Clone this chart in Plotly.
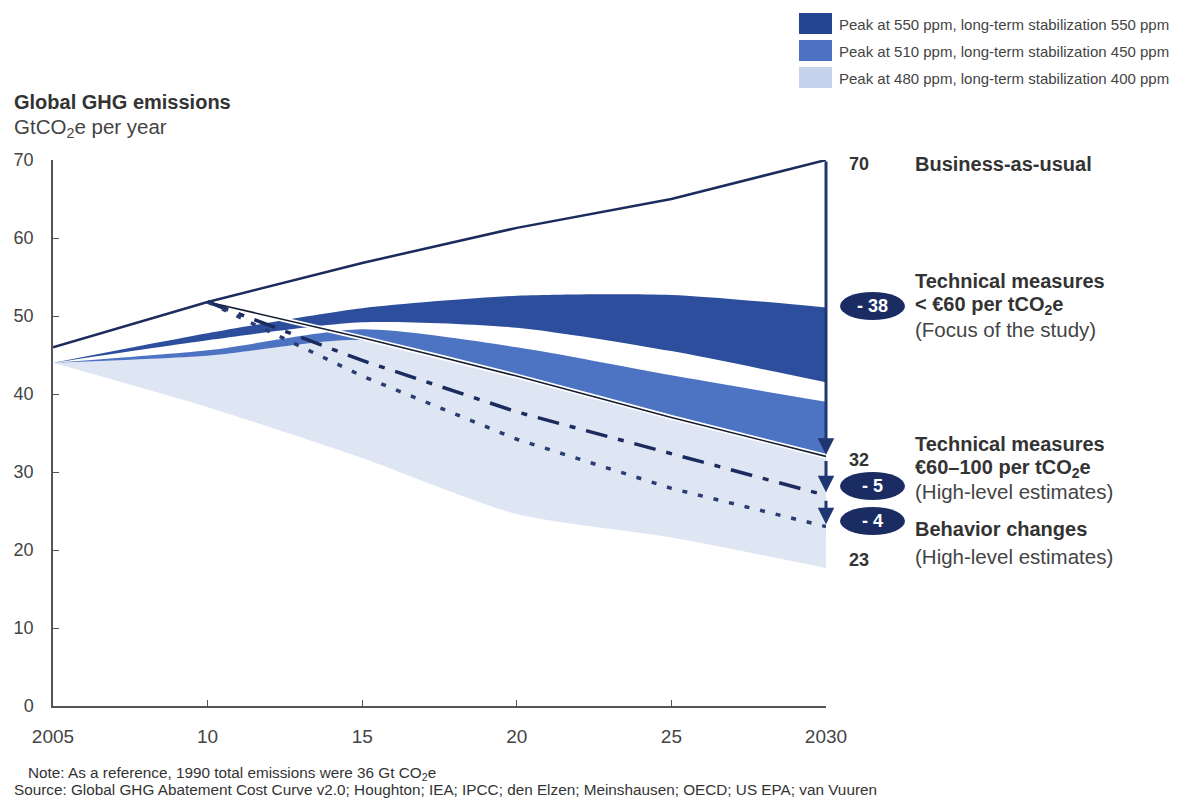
import plotly.graph_objects as go

# ---------------- data ----------------
years = [2005, 2010, 2015, 2020, 2025, 2030]
bau = [46.0, 51.8, 56.8, 61.3, 65.0, 70.0]

path_years = [2010, 2015, 2020, 2025, 2030]
tech_below_60 = [51.8, 47.2, 42.3, 37.0, 32.0]
tech_60_100 = [51.8, 44.3, 37.7, 32.3, 27.0]
behavior = [51.8, 42.3, 34.2, 27.9, 23.0]

band550_upper = [44.0, 47.8, 51.0, 52.6, 52.7, 51.1]
band550_lower = [44.0, 46.9, 49.2, 48.5, 45.5, 41.5]
band450_upper = [44.0, 45.6, 48.3, 46.0, 42.4, 39.0]
band450_lower = [44.0, 44.9, 46.9, 42.3, 37.0, 32.0]
band400_upper = band450_lower
band400_lower = [44.0, 38.3, 31.8, 24.6, 21.6, 17.7]

legend_labels = [
    "Peak at 550 ppm, long-term stabilization 550 ppm",
    "Peak at 510 ppm, long-term stabilization 450 ppm",
    "Peak at 480 ppm, long-term stabilization 400 ppm",
]
x_tickvals = [2005, 2010, 2015, 2020, 2025, 2030]
x_ticktext = ["2005", "10", "15", "20", "25", "2030"]
y_tickvals = [0, 10, 20, 30, 40, 50, 60, 70]

# ---------------- styling ----------------
FONT = "Liberation Sans, Arial, sans-serif"
TXT = "#333333"
NAVY = "#1c2b5e"
ARROW = "#1f3673"
BADGE = "#1b2c63"
C550, C450, C400 = "#2c4e9c", "#4d73c3", "#dee5f3"
LEG = ["#24458f", "#4c70c2", "#c5d3ed"]
BOLD_SIZE, REG_SIZE = 20, 20.5

W, H = 1179, 798
L, R, T, B = 53, 826, 160, 706


def px(x):
    return (x - L) / (R - L)


def py(y):
    return (B - y) / (B - T)


fig = go.Figure()


def band(upper, lower, color):
    fig.add_trace(go.Scatter(x=years, y=lower, mode="lines",
                             line=dict(width=0, shape="spline", smoothing=0.7),
                             hoverinfo="skip", showlegend=False))
    fig.add_trace(go.Scatter(x=years, y=upper, mode="lines", fill="tonexty",
                             fillcolor=color,
                             line=dict(width=0, shape="spline", smoothing=0.7),
                             hoverinfo="skip", showlegend=False))


band(band400_upper, band400_lower, C400)
band(band450_upper, band450_lower, C450)
band(band550_upper, band550_lower, C550)

# technical measures < 60 EUR path, with a white outline
fig.add_trace(go.Scatter(x=path_years, y=tech_below_60, mode="lines",
                         line=dict(color="white", width=5, shape="spline", smoothing=0.5),
                         hoverinfo="skip", showlegend=False, cliponaxis=False))
fig.add_trace(go.Scatter(x=path_years, y=tech_below_60, mode="lines",
                         line=dict(color="#141c33", width=1.6, shape="spline", smoothing=0.5),
                         hoverinfo="skip", showlegend=False, cliponaxis=False))
fig.add_trace(go.Scatter(x=path_years, y=tech_60_100, mode="lines",
                         line=dict(color=NAVY, width=3.5, dash="22px,11px,6px,11px"),
                         hoverinfo="skip", showlegend=False, cliponaxis=False))
fig.add_trace(go.Scatter(x=path_years, y=behavior, mode="lines",
                         line=dict(color="#2a3c74", width=3.5, dash="5px,11px"),
                         hoverinfo="skip", showlegend=False, cliponaxis=False))
fig.add_trace(go.Scatter(x=years, y=bau, mode="lines",
                         line=dict(color=NAVY, width=2.5),
                         hoverinfo="skip", showlegend=False, cliponaxis=False))

ann = []
shapes = []

# reduction arrows at 2030
end_bau, end_t60, end_t100, end_beh = bau[-1], tech_below_60[-1], tech_60_100[-1], behavior[-1]
for tail, head in [(end_bau, end_t60 + 0.2), (end_t60 - 0.4, end_t100 + 0.4),
                   (end_t100 - 0.5, end_beh + 0.3)]:
    ann.append(dict(x=2030, y=head, ax=2030, ay=tail, xref="x", yref="y",
                    axref="x", ayref="y", text="", showarrow=True,
                    arrowhead=2, arrowsize=1.1, arrowwidth=3, arrowcolor=ARROW,
                    standoff=0, startstandoff=0))

# reduction badges
reductions = [end_bau - end_t60, end_t60 - end_t100, end_t100 - end_beh]
badge_y = [306, 486, 521]
for val, yc in zip(reductions, badge_y):
    shapes.append(dict(type="circle", xref="paper", yref="paper",
                       x0=px(840), x1=px(905), y0=py(yc + 14), y1=py(yc - 14),
                       fillcolor=BADGE, line=dict(width=0), layer="above"))
    ann.append(dict(x=px(872.5), y=py(yc), xref="paper", yref="paper",
                    text=f"<b>- {val:.0f}</b>", showarrow=False,
                    font=dict(family=FONT, size=18, color="white"),
                    xanchor="center", yanchor="middle"))

# end values
for val, yc in [(end_bau, 164), (end_t60, 460), (end_beh, 560)]:
    ann.append(dict(x=px(847), y=py(yc), xref="paper", yref="paper",
                    text=f"<b>{val:.0f}</b>", showarrow=False,
                    font=dict(family=FONT, size=18, color=TXT),
                    xanchor="left", yanchor="middle"))

# right-hand descriptions (text, centre y, bold)
right_text = [
    ("Business-as-usual", 164, True),
    ("Technical measures", 281, True),
    ("< €60 per tCO<sub>2</sub>e", 305, True),
    ("(Focus of the study)", 329, False),
    ("Technical measures", 444, True),
    ("€60–100 per tCO<sub>2</sub>e", 468, True),
    ("(High-level estimates)", 491, False),
    ("Behavior changes", 529, True),
    ("(High-level estimates)", 556, False),
]
for txt, yc, bold in right_text:
    ann.append(dict(x=px(913), y=py(yc), xref="paper", yref="paper",
                    text=f"<b>{txt}</b>" if bold else txt, showarrow=False,
                    font=dict(family=FONT, size=BOLD_SIZE if bold else REG_SIZE,
                              color=TXT if bold else "#444444"),
                    xanchor="left", yanchor="middle"))

# axis title
ann.append(dict(x=px(12), y=py(102), xref="paper", yref="paper",
                text="<b>Global GHG emissions</b>", showarrow=False,
                font=dict(family=FONT, size=20, color=TXT),
                xanchor="left", yanchor="middle"))
ann.append(dict(x=px(12), y=py(128), xref="paper", yref="paper",
                text="GtCO<sub>2</sub>e per year", showarrow=False,
                font=dict(family=FONT, size=20.5, color="#444444"),
                xanchor="left", yanchor="middle"))

# legend
for i, (lab, col) in enumerate(zip(legend_labels, LEG)):
    top = 13 + 27 * i
    shapes.append(dict(type="rect", xref="paper", yref="paper",
                       x0=px(799), x1=px(832), y0=py(top + 21), y1=py(top),
                       fillcolor=col, line=dict(width=0)))
    ann.append(dict(x=px(837), y=py(top + 11), xref="paper", yref="paper",
                    text=lab, showarrow=False,
                    font=dict(family=FONT, size=15, color="#444444"),
                    xanchor="left", yanchor="middle"))

# footnotes
ann.append(dict(x=px(26), y=py(773), xref="paper", yref="paper",
                text="Note: As a reference, 1990 total emissions were 36 Gt CO<sub>2</sub>e",
                showarrow=False, font=dict(family=FONT, size=15.3, color="#333333"),
                xanchor="left", yanchor="middle"))
ann.append(dict(x=px(12), y=py(789), xref="paper", yref="paper",
                text="Source: Global GHG Abatement Cost Curve v2.0; Houghton; IEA; IPCC; den Elzen; "
                     "Meinshausen; OECD; US EPA; van Vuuren",
                showarrow=False, font=dict(family=FONT, size=15.3, color="#333333"),
                xanchor="left", yanchor="middle"))

fig.update_layout(
    width=W, height=H, autosize=False,
    margin=dict(l=L, r=W - R, t=T, b=H - B, pad=0),
    paper_bgcolor="white", plot_bgcolor="white",
    showlegend=False,
    annotations=ann, shapes=shapes,
    font=dict(family=FONT, color="#444444"),
)
fig.update_xaxes(range=[2005, 2030], tickvals=x_tickvals, ticktext=x_ticktext,
                 showgrid=False, zeroline=False, showline=True, linecolor="#555555",
                 linewidth=1.5, ticks="inside", ticklen=6, tickcolor="#555555",
                 tickwidth=1.2, ticklabelstandoff=12,
                 tickfont=dict(family=FONT, size=19, color="#444444"))
fig.update_yaxes(range=[0, 70], tickvals=y_tickvals,
                 showgrid=False, zeroline=False, showline=True, linecolor="#555555",
                 linewidth=1.5, ticks="inside", ticklen=6, tickcolor="#555555",
                 tickwidth=1.2, ticklabelstandoff=14,
                 tickfont=dict(family=FONT, size=18, color="#444444"))

fig.write_html("out.html")
